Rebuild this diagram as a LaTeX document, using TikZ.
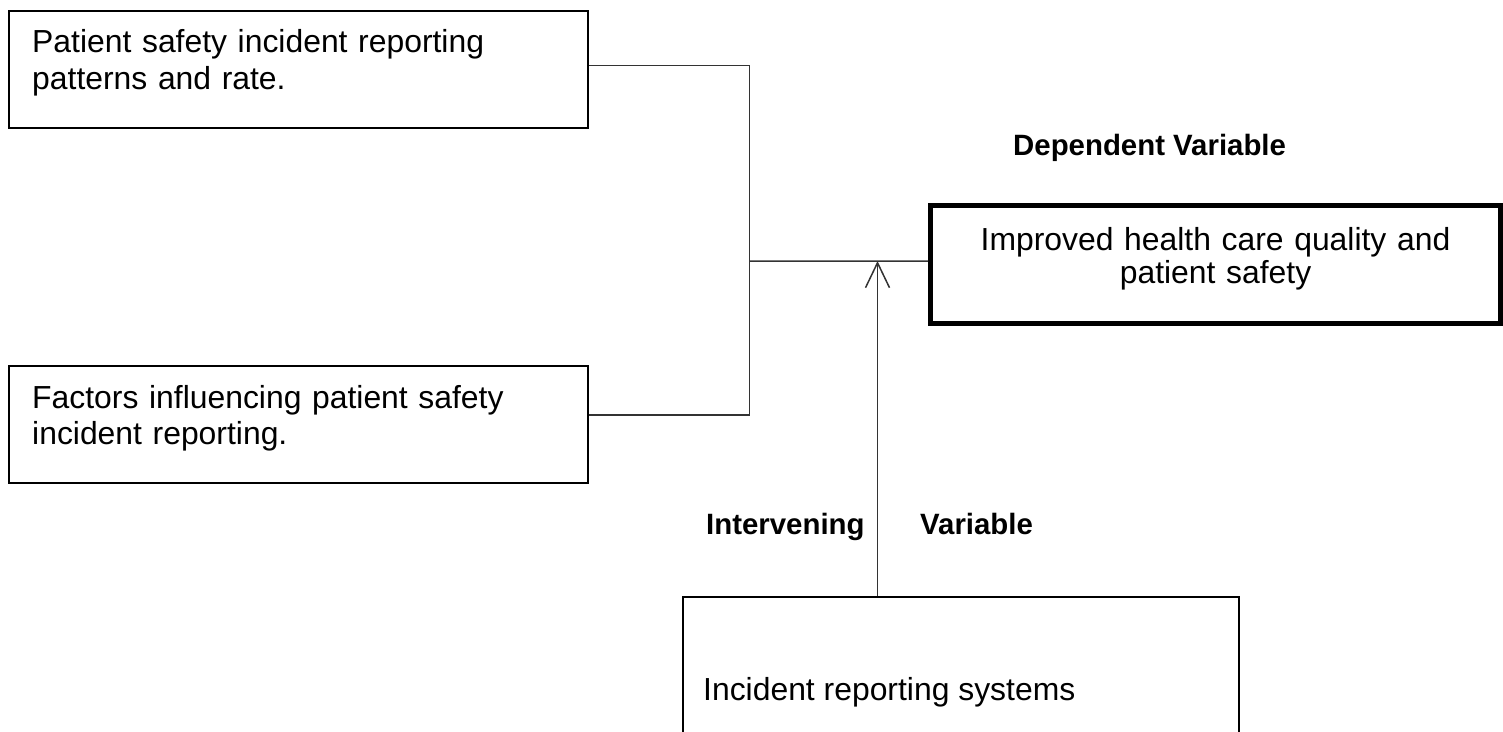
\documentclass[tikz,border=0pt]{standalone}
\usepackage{fontspec}
\setmainfont{Liberation Sans}
\usetikzlibrary{arrows.meta}
\begin{document}
\begin{tikzpicture}[x=1bp,y=-1bp,
  box/.style={draw=black,line width=2bp,inner sep=0pt},
  thickbox/.style={draw=black,line width=5bp,inner sep=0pt},
  conn/.style={draw=black!80,line width=1.5bp},
  txt/.style={inner sep=0pt,font=\fontsize{32}{37}\selectfont},
  lbl/.style={inner sep=0pt,font=\fontsize{29.5}{34}\selectfont\bfseries}]
\clip (0,0) rectangle (1503,732);
% boxes
\node[box,minimum width=579bp,minimum height=116.5bp] (b1) at (298.5,69.25) {};
\node[box,minimum width=579bp,minimum height=116.5bp] (b2) at (298.5,424.5) {};
\node[thickbox,minimum width=570bp,minimum height=118bp] (b3) at (1215.5,264.5) {};
\node[box,minimum width=556bp,minimum height=203bp] (b4) at (961,698.5) {};
% texts
\node[txt,anchor=base west,text width=550bp,align=left] (t1) at (32,53)
  {Patient safety incident reporting\\patterns and rate.};
\node[txt,anchor=base west,text width=550bp,align=left] (t2) at (32,408)
  {Factors influencing patient safety\\incident reporting.};
\node[txt,anchor=base,text width=560bp,align=center,font=\fontsize{32}{34}\selectfont] (t3) at (1215.5,250)
  {Improved health care quality and\\patient safety};
\node[txt,anchor=base west] (t4) at (703,700) {Incident reporting systems};
\node[lbl,anchor=base west] (l1) at (1013,155) {Dependent Variable};
\node[lbl,anchor=base west] (l2) at (706,534) {Intervening};
\node[lbl,anchor=base west] (l3) at (920,534) {Variable};
% connectors
\coordinate (j) at (749.5,261);
\coordinate (tip) at (877.5,261);
\draw[conn] ([yshift=3.5bp]b1.east) -| (j);
\draw[conn] ([yshift=9.5bp]b2.east) -| (j);
\draw[conn] (j) -- ([yshift=3.5bp]b3.west);
\draw[conn,-{Straight Barb[length=25bp,width=24bp]}] (b4.north -| tip) -- (tip);
\end{tikzpicture}
\end{document}
